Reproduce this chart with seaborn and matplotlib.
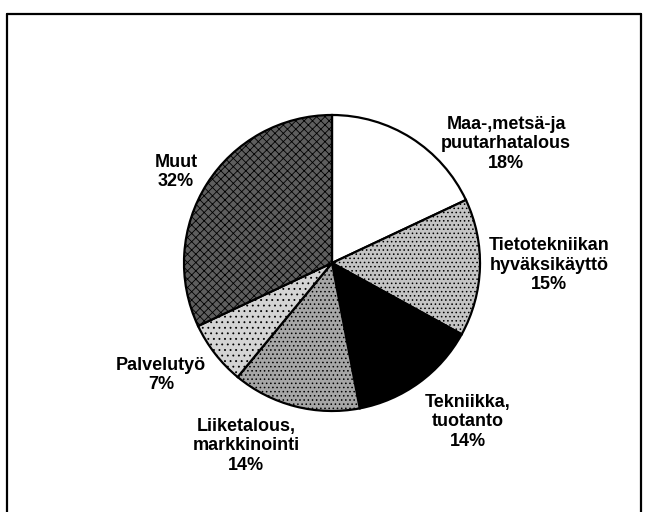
import matplotlib
matplotlib.use("Agg")
import matplotlib.pyplot as plt
import seaborn as sns
from matplotlib.lines import Line2D

sns.set_theme(style="white")
plt.rcParams['font.family'] = ['Liberation Sans', 'DejaVu Sans']

# Data
categories = ["Maa-,metsä-ja\npuutarhatalous", "Tietotekniikan\nhyväksikäyttö",
              "Tekniikka,\ntuotanto", "Liiketalous,\nmarkkinointi", "Palvelutyö", "Muut"]
shares = [18, 15, 14, 14, 7, 32]

# Styling (fill tones approximating the printed dot screens)
fills = ["#ffffff", "#c4c4c4", "#000000", "#a6a6a6", "#d4d4d4", "#5e5e5e"]
hatches = ["", "....", "", "....", "...", "xxxx"]
# label anchor positions in pixels (x, y from top)
label_pos = [(506, 144), (549, 265), (468, 422), (246, 446), (161, 375), (176, 172)]

W, H = 645, 512
fig = plt.figure(figsize=(W / 100, H / 100), dpi=100)
cx, cy, r = 332, 263, 148
ax = fig.add_axes([(cx - r) / W, (H - cy - r) / H, 2 * r / W, 2 * r / H])

plt.rcParams['hatch.linewidth'] = 0.6
wedges, _ = ax.pie(shares, startangle=90, counterclock=False, colors=fills,
                   wedgeprops=dict(edgecolor="black", linewidth=1.6))
for w, h in zip(wedges, hatches):
    if h:
        w.set_hatch(h)
ax.set_xlim(-1, 1)
ax.set_ylim(-1, 1)
ax.set_aspect("equal")
ax.axis("off")

for cat, val, (px, py) in zip(categories, shares, label_pos):
    fig.text(px / W, 1 - py / H, f"{cat}\n{val}%", ha="center", va="center",
             fontsize=13, fontweight="bold", linespacing=1.18, color="black")

# frame
lw = 1.6
fig.add_artist(Line2D([7 / W, 7 / W], [0, 1 - 14 / H], color="black", lw=lw))
fig.add_artist(Line2D([7 / W, 641 / W], [1 - 14 / H, 1 - 14 / H], color="black", lw=lw))
fig.add_artist(Line2D([641 / W, 641 / W], [0, 1 - 14 / H], color="black", lw=lw))

fig.savefig("out.png", dpi=100, facecolor="white")
